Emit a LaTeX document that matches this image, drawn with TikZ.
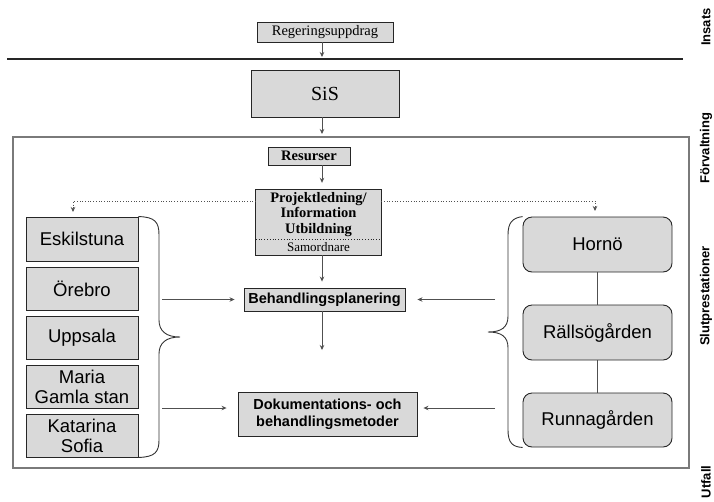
\documentclass[tikz,border=0pt]{standalone}
\usepackage{fontspec}
\setmainfont{Liberation Serif}
\setsansfont{Liberation Sans}
\usetikzlibrary{arrows.meta}

\definecolor{boxgray}{HTML}{D9D9D9}
\definecolor{arrowgray}{HTML}{505050}
\definecolor{framegray}{HTML}{7A7A7A}

\begin{document}
\begin{tikzpicture}[
    x = 1pt, y = -1pt,
    box/.style = {rectangle, draw = black!85, fill = boxgray, line width = 0.9pt,
      inner sep = 0pt, align = center},
    roundbox/.style = {box, rounded corners = 9pt},
    serif/.style = {font = \fontsize{14.5}{15.5}\selectfont},
    serifbold/.style = {font = \fontsize{14.5}{15.5}\selectfont\bfseries},
    sans/.style = {font = \sffamily\fontsize{18.5}{20}\selectfont},
    sansbold/.style = {font = \sffamily\bfseries\fontsize{14.5}{17}\selectfont},
    side/.style = {font = \sffamily\bfseries\fontsize{13}{15}\selectfont, rotate = 90},
    arr/.style = {draw = arrowgray, line width = 0.7pt,
      -{Stealth[length = 5pt, width = 4.5pt]}},
    dotarr/.style = {arr, dotted, line width = 0.7pt},
    link/.style = {draw = arrowgray, line width = 0.8pt},
    brace/.style = {draw = black!80, line width = 0.9pt},
  ]
\useasboundingbox (0,0) rectangle (714,501);

% insats
\node[box, serif,
    minimum width = 136pt,
    minimum height = 20pt] (reg) at (325,32) {Regeringsuppdrag};
\draw[black!85, line width = 1.2pt] (7,59) coordinate (hl) -- (683,59) coordinate (hr);

\node[box,
    font = \fontsize{20}{22}\selectfont,
    minimum width = 148pt,
    minimum height = 47pt] (sis) at (325,93.5) {SiS};

% frame
\draw[framegray, line width = 1.5pt] (13,137) coordinate (ftl) rectangle (689,468);
\coordinate (axis) at (322,0);

\draw[arr, shorten > = 2pt] (reg.south -| axis) -- (hl -| axis);
\draw[arr, shorten > = 3pt] (sis.south -| axis) -- (ftl -| axis);

% forvaltning
\node[box, serifbold,
    minimum width = 82pt,
    minimum height = 18pt] (res) at (309,156) {Resurser};

\node[rectangle, serifbold, fill = boxgray, inner sep = 0pt, align = center,
    minimum width = 125pt,
    minimum height = 49pt] (pl) at (318.5,214.5) {Projektledning/\\Information\\Utbildning};
\node[rectangle, serif, fill = boxgray, inner sep = 0pt,
    font = \fontsize{13}{14}\selectfont,
    minimum width = 125pt,
    minimum height = 16pt] (sam) at (318.5,247) {Samordnare};
\draw[black!85, line width = 0.9pt] (pl.north west) rectangle (sam.south east);
\draw[black!85, dotted, line width = 0.8pt] (pl.south west) -- (pl.south east);

\draw[arr, shorten > = 7pt] (res.south -| axis) -- (pl.north -| axis);

% slutprestationer, left
\node[box, sans,
    minimum width = 112pt,
    minimum height = 44pt] (esk) at (82,239) {Eskilstuna};
\node[box, sans,
    minimum width = 112pt,
    minimum height = 43pt] (ore) at (82,288.5) {Örebro};
\node[box, sans,
    minimum width = 112pt,
    minimum height = 43pt] (upp) at (82,337.5) {Uppsala};
\node[box, sans,
    minimum width = 112pt,
    minimum height = 43pt] (mar) at (82,386.5) {Maria\\Gamla stan};
\node[box, sans,
    minimum width = 112pt,
    minimum height = 43pt] (kat) at (82,435.5) {Katarina\\Sofia};

\draw[brace] (esk.north east) .. controls (155,217) and (159,222) .. (159,235)
  -- (159,320) .. controls (159,331) and (166,337) .. (180,337) coordinate (lt)
  .. controls (166,337) and (159,343) .. (159,354)
  -- (159,440) .. controls (159,452) and (155,457) .. (kat.south east);

% slutprestationer, right
\node[roundbox, sans,
    minimum width = 149pt,
    minimum height = 55pt] (hor) at (597.5,244.5) {Hornö};
\node[roundbox, sans,
    minimum width = 149pt,
    minimum height = 55pt] (ral) at (597.5,332.5) {Rällsögården};
\node[roundbox, sans,
    minimum width = 149pt,
    minimum height = 54pt] (run) at (597.5,420) {Runnagården};
\draw[link] (hor) -- (ral);
\draw[link] (ral) -- (run);

\draw[brace] (hor.north west) .. controls (512,218) and (508,223) .. (508,235)
  -- (508,316) .. controls (508,327) and (502,332) .. (488,332) coordinate (rt)
  .. controls (502,332) and (508,337) .. (508,348)
  -- (508,430) .. controls (508,442) and (512,447) .. (run.south west);

% middle
\node[box, sansbold,
    minimum width = 161pt,
    minimum height = 23pt] (bp) at (324.5,299.5) {Behandlingsplanering};
\node[box, sansbold,
    minimum width = 179pt,
    minimum height = 44pt] (dok) at (327.5,414) {Dokumentations- och\\behandlingsmetoder};

\draw[dotarr, shorten > = 5pt] ([yshift = 13.5pt]pl.west) -| (73,217);
\draw[dotarr, shorten > = 6pt] ([yshift = 13.5pt]pl.east) -| (595,217);

\draw[arr, shorten > = 6pt] (sam.south -| axis) -- (bp.north -| axis);
\coordinate (bpend) at (322,350);
\draw[arr] (bp.south -| axis) -- (bpend);

\coordinate (la) at (162,408);
\coordinate (ra) at (495,408);
\draw[arr, shorten > = 9pt] (bp.west -| la) -- (bp.west);
\draw[arr, shorten > = 12pt] (bp.east -| ra) -- (bp.east);
\draw[arr, shorten > = 11pt] (la) -- (la -| dok.west);
\draw[arr, shorten > = 6pt] (ra) -- (ra -| dok.east);

% side labels
\node[side] (ins) at (706,27) {Insats};
\node[side] (frv) at (706,148) {Förvaltning};
\node[side] (slp) at (706,296) {Slutprestationer};
\node[side] (utf) at (706,482) {Utfall};

\end{tikzpicture}
\end{document}
